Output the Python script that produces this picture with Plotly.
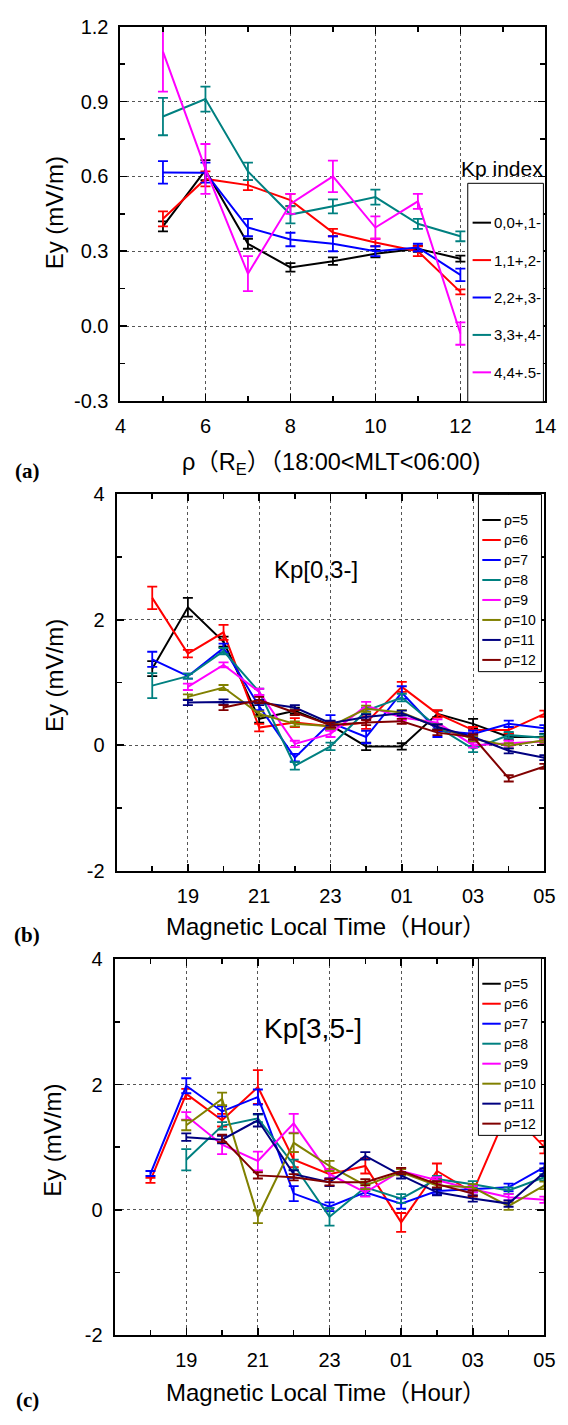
import plotly.graph_objects as go

W, H = 568, 1425

# ---------------- Panel (a): Ey vs rho for Kp bins ----------------
rho = [5, 6, 7, 8, 9, 10, 11, 12]
kp_names = ["0,0+,1-", "1,1+,2-", "2,2+,3-", "3,3+,4-", "4,4+.5-"]
kp_colors = ["#000000", "#FF0000", "#0000FF", "#008080", "#FF00FF"]
ey_kp0 = [0.40, 0.625, 0.33, 0.235, 0.26, 0.29, 0.31, 0.27]
ey_kp1 = [0.43, 0.59, 0.565, 0.505, 0.375, 0.335, 0.30, 0.137]
ey_kp2 = [0.616, 0.615, 0.395, 0.347, 0.33, 0.30, 0.315, 0.205]
ey_kp3 = [0.84, 0.91, 0.62, 0.447, 0.48, 0.517, 0.41, 0.36]
ey_kp4 = [1.10, 0.63, 0.21, 0.49, 0.60, 0.395, 0.50, -0.03]
err_kp0 = [0.02, 0.04, 0.02, 0.017, 0.015, 0.015, 0.012, 0.012]
err_kp1 = [0.03, 0.03, 0.02, 0.025, 0.015, 0.015, 0.02, 0.01]
err_kp2 = [0.045, 0.04, 0.035, 0.027, 0.03, 0.02, 0.015, 0.025]
err_kp3 = [0.075, 0.05, 0.035, 0.035, 0.028, 0.03, 0.02, 0.02]
err_kp4 = [0.16, 0.10, 0.07, 0.04, 0.063, 0.045, 0.03, 0.045]

# ---------------- Panels (b), (c): Ey vs MLT for rho bins ----------------
mlt = [18, 19, 20, 21, 22, 23, 24, 25, 26, 27, 28, 29]
mlt_tickvals = [19, 21, 23, 25, 27, 29]
mlt_ticktext = ["19", "21", "23", "01", "03", "05"]
rho_names = ["ρ=5", "ρ=6", "ρ=7", "ρ=8", "ρ=9", "ρ=10", "ρ=11", "ρ=12"]
rho_colors = ["#000000", "#FF0000", "#0000FF", "#008080", "#FF00FF",
              "#808000", "#000080", "#800000"]

# Kp[0,3-]
b_r5 = [1.22, 2.20, 1.65, 0.42, 0.55, 0.32, -0.02, -0.02, 0.50, 0.34, 0.13, 0.13]
b_r6 = [2.35, 1.46, 1.80, 0.28, 0.36, 0.30, 0.36, 0.93, 0.50, 0.24, 0.24, 0.50]
b_r7 = [1.37, 1.10, 1.55, 0.62, -0.20, 0.36, 0.13, 0.84, 0.23, 0.18, 0.34, 0.27]
b_r8 = [0.95, 1.10, 1.50, 0.85, -0.33, -0.02, 0.55, 0.76, 0.29, -0.06, 0.16, 0.12]
b_r9 = [None, 0.93, 1.28, 0.85, 0.02, 0.18, 0.63, 0.44, 0.36, 0.00, 0.03, 0.06]
b_r10 = [None, 0.77, 0.92, 0.50, 0.34, 0.30, 0.58, 0.52, 0.29, 0.10, -0.01, 0.08]
b_r11 = [None, 0.68, 0.69, 0.68, 0.60, 0.35, 0.45, 0.51, 0.29, 0.13, -0.09, -0.20]
b_r12 = [None, None, 0.60, 0.72, 0.52, 0.32, 0.36, 0.38, 0.20, 0.13, -0.53, -0.34]
be_r5 = [0.12, 0.15, 0.08, 0.06, 0.05, 0.06, 0.06, 0.05, 0.05, 0.08, 0.05, 0.05]
be_r6 = [0.18, 0.06, 0.12, 0.06, 0.07, 0.06, 0.10, 0.08, 0.06, 0.05, 0.05, 0.05]
be_r7 = [0.12, 0.04, 0.07, 0.06, 0.06, 0.12, 0.10, 0.10, 0.10, 0.05, 0.05, 0.05]
be_r8 = [0.20, 0.04, 0.05, 0.05, 0.06, 0.06, 0.05, 0.06, 0.05, 0.05, 0.05, 0.05]
be_r9 = [None, 0.05, 0.04, 0.05, 0.05, 0.05, 0.06, 0.05, 0.05, 0.04, 0.04, 0.04]
be_r10 = [None, 0.04, 0.04, 0.04, 0.04, 0.04, 0.05, 0.04, 0.04, 0.04, 0.04, 0.04]
be_r11 = [None, 0.04, 0.04, 0.04, 0.04, 0.04, 0.04, 0.04, 0.04, 0.04, 0.04, 0.04]
be_r12 = [None, None, 0.04, 0.05, 0.04, 0.04, 0.04, 0.04, 0.04, 0.04, 0.05, 0.04]

# Kp[3,5-]
c_r5 = [None, None, None, None, None, None, None, None, None, None, None, None]
c_r6 = [0.47, 1.85, 1.43, 1.96, 0.80, 0.57, 0.70, -0.20, 0.62, 0.28, 1.60, 1.00]
c_r7 = [0.58, 1.98, 1.57, 1.80, 0.26, 0.05, 0.28, 0.10, 0.30, 0.33, 0.36, 0.68]
c_r8 = [None, 0.80, 1.34, 1.46, 0.72, -0.11, 0.36, 0.18, 0.49, 0.41, 0.31, 0.52]
c_r9 = [None, 1.50, 1.04, 0.78, 1.38, 0.57, 0.28, 0.62, 0.47, 0.33, 0.20, 0.16]
c_r10 = [None, 1.35, 1.77, -0.11, 1.07, 0.70, 0.39, 0.60, 0.39, 0.36, 0.06, 0.39]
c_r11 = [None, 1.16, 1.12, 1.43, 0.57, 0.44, 0.86, 0.55, 0.28, 0.18, 0.10, 0.60]
c_r12 = [None, None, 1.14, 0.55, 0.52, 0.44, 0.44, 0.62, 0.41, 0.26, None, None]
ce_r5 = [None, None, None, None, None, None, None, None, None, None, None, None]
ce_r6 = [0.04, 0.08, 0.10, 0.27, 0.12, 0.08, 0.12, 0.15, 0.12, 0.05, 0.10, 0.10]
ce_r7 = [0.04, 0.12, 0.08, 0.12, 0.12, 0.07, 0.06, 0.08, 0.05, 0.05, 0.06, 0.06]
ce_r8 = [None, 0.17, 0.06, 0.06, 0.08, 0.14, 0.06, 0.07, 0.05, 0.05, 0.05, 0.05]
ce_r9 = [None, 0.06, 0.15, 0.15, 0.15, 0.07, 0.07, 0.05, 0.05, 0.05, 0.05, 0.05]
ce_r10 = [None, 0.08, 0.10, 0.10, 0.15, 0.08, 0.06, 0.05, 0.05, 0.05, 0.06, 0.06]
ce_r11 = [None, 0.06, 0.06, 0.10, 0.06, 0.06, 0.06, 0.05, 0.05, 0.05, 0.05, 0.06]
ce_r12 = [None, None, 0.06, 0.05, 0.05, 0.05, 0.05, 0.05, 0.05, 0.05, None, None]

a_series = [ey_kp0, ey_kp1, ey_kp2, ey_kp3, ey_kp4]
a_errors = [err_kp0, err_kp1, err_kp2, err_kp3, err_kp4]
b_series = [b_r5, b_r6, b_r7, b_r8, b_r9, b_r10, b_r11, b_r12]
b_errors = [be_r5, be_r6, be_r7, be_r8, be_r9, be_r10, be_r11, be_r12]
c_series = [c_r5, c_r6, c_r7, c_r8, c_r9, c_r10, c_r11, c_r12]
c_errors = [ce_r5, ce_r6, ce_r7, ce_r8, ce_r9, ce_r10, ce_r11, ce_r12]

FONT = "Liberation Sans, Arial, Noto Sans CJK SC, sans-serif"


def px(x):
    return x / W


def py(y):
    return 1 - y / H


fig = go.Figure()


def add_series(xs, series, errors, colors, names, xa, ya):
    for ys, es, col, nm in zip(series, errors, colors, names):
        fig.add_trace(go.Scatter(
            x=xs, y=ys, mode="lines", name=nm, showlegend=False,
            line=dict(color=col, width=2),
            error_y=dict(type="data", array=es, visible=True, color=col,
                         thickness=1.8, width=5),
            xaxis=xa, yaxis=ya, hoverinfo="skip"))


add_series(rho, a_series, a_errors, kp_colors, kp_names, "x", "y")
add_series(mlt, b_series, b_errors, rho_colors, rho_names, "x2", "y2")
add_series(mlt, c_series, c_errors, rho_colors, rho_names, "x3", "y3")


def axis_style(**kw):
    d = dict(showline=True, linecolor="black", linewidth=2, mirror="ticks",
             ticks="inside", ticklen=7, tickwidth=1.5, tickcolor="black",
             showgrid=True, gridcolor="#555555", griddash="dot", gridwidth=1,
             zeroline=False, tickfont=dict(size=20, color="black", family=FONT),
             ticklabelstandoff=6)
    d.update(kw)
    return d


def minor(t0, dt):
    return dict(ticks="inside", ticklen=5, tickwidth=1.5, tickcolor="black",
                tickmode="linear", tick0=t0, dtick=dt, showgrid=False)


layout = dict(
    width=W, height=H, margin=dict(l=0, r=0, t=0, b=0),
    paper_bgcolor="white", plot_bgcolor="white", showlegend=False,
    font=dict(family=FONT, color="black"),
    xaxis=axis_style(domain=[px(118), px(556)], range=[4, 14], anchor="y",
                     tickmode="array", tickvals=[4, 6, 8, 10, 12, 14],
                     ticktext=["4", "6", "8", "10", "12", "14"],
                     minor=minor(4, 1)),
    yaxis=axis_style(domain=[py(396), py(16)], range=[-0.3, 1.2], anchor="x",
                     tickmode="array", tickvals=[-0.3, 0, 0.3, 0.6, 0.9, 1.2],
                     ticktext=["-0.3", "0.0", "0.3", "0.6", "0.9", "1.2"],
                     minor=minor(-0.3, 0.15)),
    xaxis2=axis_style(domain=[px(114), px(555)], range=[17, 29], anchor="y2",
                      tickmode="array", tickvals=mlt_tickvals, ticktext=mlt_ticktext,
                      minor=minor(17, 1)),
    yaxis2=axis_style(domain=[py(873), py(491)], range=[-2, 4], anchor="x2",
                      tickmode="array", tickvals=[-2, 0, 2, 4],
                      ticktext=["-2", "0", "2", "4"], minor=minor(-2, 1)),
    xaxis3=axis_style(domain=[px(112), px(555)], range=[17, 29], anchor="y3",
                      tickmode="array", tickvals=mlt_tickvals, ticktext=mlt_ticktext,
                      minor=minor(17, 1)),
    yaxis3=axis_style(domain=[py(1345), py(963)], range=[-2, 4], anchor="x3",
                      tickmode="array", tickvals=[-2, 0, 2, 4],
                      ticktext=["-2", "0", "2", "4"], minor=minor(-2, 1)),
)
fig.update_layout(**layout)

annotations = []
shapes = []


def text(x, y, s, size, xanchor="center", angle=0, family=FONT):
    annotations.append(dict(x=px(x), y=py(y), xref="paper", yref="paper",
                            text=s, showarrow=False, xanchor=xanchor,
                            yanchor="middle", textangle=angle,
                            font=dict(size=size, family=family, color="black")))


# axis titles
text(50, 205, "Ey (mV/m)", 24, angle=-90)
text(50, 675, "Ey (mV/m)", 24, angle=-90)
text(48, 1147, "Ey (mV/m)", 24, angle=-90)
text(335, 460, "ρ（R<sub>E</sub>）（18:00&lt;MLT&lt;06:00)", 23.5)
text(330, 930, "Magnetic Local Time（Hour）", 24)
text(330, 1403, "Magnetic Local Time（Hour）", 24)

# panel labels
serif = "Liberation Serif, Times New Roman, serif"
text(22, 467, "<b>(a)</b>", 21, family=serif)
text(22, 938, "<b>(b)</b>", 21, family=serif)
text(22, 1411, "<b>(c)</b>", 21, family=serif)

# in-panel labels
text(320, 567, "Kp[0,3-]", 24)
text(316, 1033, "Kp[3,5-]", 28)


def legend(box, first_y, step, names, colors, line_x, text_x, size):
    l, t, r, b = box
    shapes.append(dict(type="rect", xref="paper", yref="paper",
                       x0=px(l), x1=px(r), y0=py(b), y1=py(t),
                       line=dict(color="black", width=1), fillcolor="white",
                       layer="above"))
    for i, (nm, col) in enumerate(zip(names, colors)):
        yy = first_y + i * step
        shapes.append(dict(type="line", xref="paper", yref="paper",
                           x0=px(line_x[0]), x1=px(line_x[1]),
                           y0=py(yy), y1=py(yy),
                           line=dict(color=col, width=2), layer="above"))
        text(text_x, yy, nm, size, xanchor="left")


text(511, 160, "Kp index", 21)
legend((476, 175, 554, 397), 215, 38, kp_names, kp_colors, (481, 500), 501, 15)
legend((487, 491, 552, 671), 517, 20.3, rho_names, rho_colors, (491, 510), 511, 14)
legend((487, 962, 552, 1142), 988, 20.3, rho_names, rho_colors, (491, 510), 511, 14)

fig.update_layout(annotations=annotations, shapes=shapes)
fig.write_html(
    "out.html",
    config={"displayModeBar": False, "staticPlot": True},
    post_script="document.documentElement.style.margin='0';"
                "document.body.style.margin='0';"
                "document.body.style.overflow='hidden';")
